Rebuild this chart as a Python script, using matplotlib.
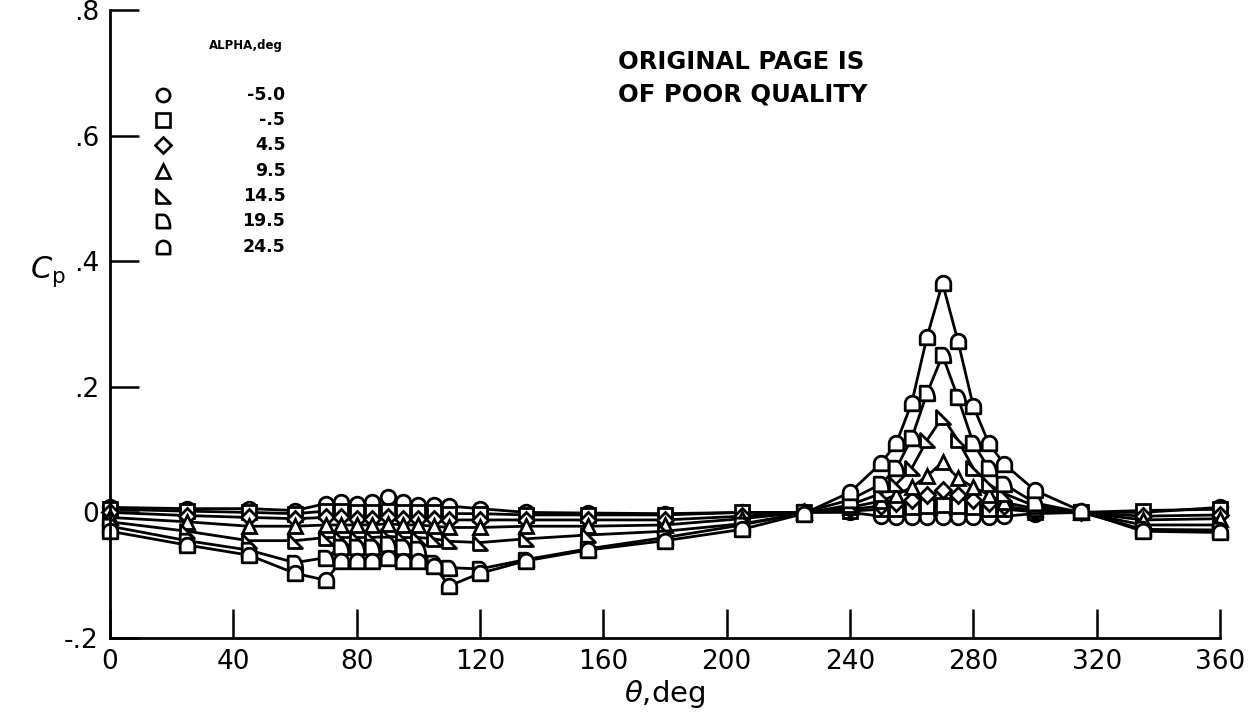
import numpy as np
import matplotlib
matplotlib.use('Agg')
import matplotlib.pyplot as plt
from matplotlib.path import Path

plt.rcParams['font.family'] = ['DejaVu Sans']

theta = [0, 25, 45, 60, 70, 75, 80, 85, 90, 95, 100, 105, 110, 120, 135, 155, 180,
         205, 225, 240, 250, 255, 260, 265, 270, 275, 280, 285, 290, 300, 315, 335, 360]

alpha_labels = ['-5.0', '-.5', '4.5', '9.5', '14.5', '19.5', '24.5']

cp_m50 = [0.008, 0.006, 0.006, 0.003, 0.014, 0.016, 0.014, 0.016, 0.024, 0.016, 0.011, 0.011, 0.010,
          0.006, 0.000, -0.001, -0.002, 0.000, 0.000, 0.000, -0.006, -0.007, -0.007, -0.007, -0.007,
          -0.007, -0.007, -0.007, -0.006, -0.002, 0.000, 0.000, 0.008]
cp_m05 = [0.005, 0.002, 0.000, -0.002, 0.002, 0.002, 0.000, 0.000, 0.002, 0.000, 0.000, 0.000, -0.002,
          -0.002, -0.004, -0.004, -0.004, 0.000, 0.000, 0.002, 0.005, 0.006, 0.008, 0.010, 0.012,
          0.010, 0.008, 0.006, 0.005, 0.001, 0.000, 0.003, 0.005]
cp_45 = [0.000, -0.005, -0.008, -0.010, -0.008, -0.008, -0.010, -0.010, -0.008, -0.010, -0.010, -0.010,
         -0.012, -0.012, -0.012, -0.012, -0.012, -0.006, 0.000, 0.005, 0.010, 0.015, 0.020, 0.027, 0.035,
         0.027, 0.020, 0.015, 0.010, 0.003, 0.000, -0.006, -0.004]
cp_95 = [-0.008, -0.015, -0.022, -0.022, -0.020, -0.020, -0.020, -0.020, -0.018, -0.020, -0.020, -0.022,
         -0.024, -0.024, -0.022, -0.022, -0.020, -0.010, 0.000, 0.008, 0.018, 0.028, 0.040, 0.058, 0.080,
         0.055, 0.040, 0.028, 0.016, 0.006, 0.000, -0.012, -0.010]
cp_145 = [-0.015, -0.030, -0.045, -0.045, -0.040, -0.040, -0.040, -0.040, -0.038, -0.040, -0.040, -0.042,
          -0.046, -0.048, -0.042, -0.036, -0.030, -0.018, -0.002, 0.012, 0.030, 0.045, 0.070, 0.115, 0.152,
          0.115, 0.070, 0.045, 0.030, 0.010, 0.000, -0.020, -0.020]
cp_195 = [-0.022, -0.045, -0.060, -0.080, -0.072, -0.055, -0.055, -0.055, -0.050, -0.055, -0.058, -0.080,
          -0.088, -0.090, -0.075, -0.058, -0.040, -0.020, 0.000, 0.020, 0.045, 0.070, 0.118, 0.190, 0.250,
          0.183, 0.110, 0.070, 0.045, 0.015, 0.000, -0.027, -0.028]
cp_245 = [-0.030, -0.052, -0.068, -0.097, -0.108, -0.077, -0.077, -0.077, -0.072, -0.077, -0.077, -0.085,
          -0.117, -0.097, -0.077, -0.060, -0.045, -0.027, -0.002, 0.032, 0.078, 0.110, 0.174, 0.280, 0.365,
          0.273, 0.169, 0.110, 0.077, 0.035, 0.002, -0.030, -0.032]


def half_round():
    t = np.linspace(np.pi, 0, 20)
    verts = [(-1, -1), (-1, 0)] + list(zip(np.cos(t), np.sin(t))) + [(1, -1), (-1, -1)]
    return Path(verts, closed=True)


def quarter_d():
    t = np.linspace(np.pi / 2, 0, 20)
    verts = [(-1, -1), (-1, 1), (0, 1)] + list(zip(np.cos(t), -1 + 2 * np.sin(t))) + [(-1, -1)]
    return Path(verts, closed=True)


right_tri = Path([(-1, 1), (-1, -1), (1, -1), (-1, 1)], closed=True)

series = [cp_m50, cp_m05, cp_45, cp_95, cp_145, cp_195, cp_245]
markers = ['o', 's', 'D', '^', right_tri, quarter_d(), half_round()]
msizes = [10.5, 9.5, 8.5, 10.5, 10.5, 10.5, 10.5]

fig = plt.figure(figsize=(12.55, 7.25), dpi=100)
ax = fig.add_axes([110 / 1255, 1 - 638 / 725, 1110 / 1255, 628 / 725])

for cp, m, ms in zip(series, markers, msizes):
    ax.plot(theta, cp, color='black', lw=2.0, marker=m, ms=ms, mfc='white',
            mec='black', mew=2.0, clip_on=False)

ax.set_xlim(0, 360)
ax.set_ylim(-0.2, 0.8)
ax.set_xticks(np.arange(0, 361, 40))
ax.set_yticks([-0.2, 0, 0.2, 0.4, 0.6, 0.8])
ax.set_yticklabels(['-.2', '0', '.2', '.4', '.6', '.8'])
ax.tick_params(direction='in', length=21, width=1.8, labelsize=19, pad=8)
for s in ['top', 'right']:
    ax.spines[s].set_visible(False)
for s in ['left', 'bottom']:
    ax.spines[s].set_linewidth(2.0)

ax.set_xlabel(r'$\theta$,deg', fontsize=21, labelpad=2)
fig.text(30 / 1255, 1 - 272 / 725, r'$C_\mathrm{p}$', fontsize=22, ha='left', va='center')

# legend drawn by hand: symbol, then right-aligned value
ax.text(0.122, 0.944, 'ALPHA,deg', transform=ax.transAxes, fontsize=8.5,
        fontweight='bold', ha='center', va='center')
for i, (lab, m) in enumerate(zip(alpha_labels, markers)):
    yy = 0.865 - i * 0.0403
    ax.plot([0.0477], [yy], transform=ax.transAxes, marker=m, ms=9.5 if m != 'D' else 8.5,
            mfc='white', mec='black', mew=1.9, ls='none', clip_on=False)
    ax.text(0.158, yy, lab, transform=ax.transAxes, fontsize=12.5, fontweight='bold',
            ha='right', va='center')

ax.text(0.458, 0.917, 'ORIGINAL PAGE IS', transform=ax.transAxes, fontsize=17.5,
        fontweight='heavy', ha='left', va='center')
ax.text(0.458, 0.865, 'OF POOR QUALITY', transform=ax.transAxes, fontsize=17.5,
        fontweight='heavy', ha='left', va='center')

fig.savefig('out.png', dpi=100)
